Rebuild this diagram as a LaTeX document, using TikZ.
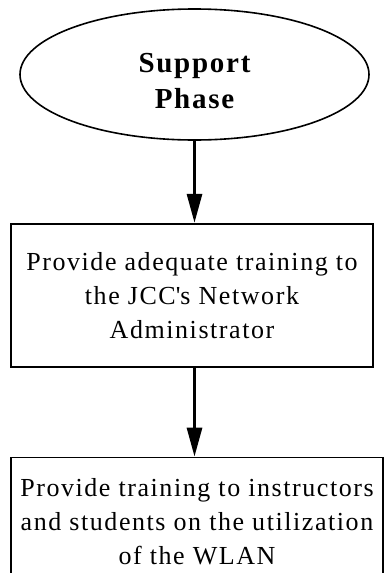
\documentclass[tikz,border=0pt]{standalone}
\usepackage{fontspec}
\setmainfont[LetterSpace=6]{Liberation Serif}
\usetikzlibrary{positioning,arrows.meta,shapes.geometric}

\begin{document}
\begin{tikzpicture}[
		phase/.style={ellipse, draw, line width=1.6pt, inner sep=0pt,
			minimum width=349pt, minimum height=131pt, align=center,
			text height=68pt, font=\fontsize{29}{36}\selectfont\bfseries},
		task/.style={rectangle, draw, line width=1.8pt, inner sep=0pt,
			align=center, font=\fontsize{26}{34}\selectfont},
		arr/.style={-{Triangle[length=29pt, width=15pt]}, line width=3pt}]
		\useasboundingbox (0,0) rectangle (386pt,-573pt);
		\node[phase] (sp) at (194.5pt,-74.5pt) {Support\\Phase};
		\node[task, minimum width=362pt, minimum height=143pt,
			below=82pt of sp, xshift=-2.5pt] (train)
			{Provide adequate training to\\the JCC\textquotesingle s Network\\Administrator};
		\node[task, minimum width=372pt, minimum height=128pt,
			below=89pt of train, xshift=5pt] (users)
			{Provide training to instructors\\and students on the utilization\\of the WLAN};
		\draw[arr] (sp.south) -- (sp.south |- train.north);
		\draw[arr] (train.south -| sp.south) -- (sp.south |- users.north);
	\end{tikzpicture}
\end{document}
